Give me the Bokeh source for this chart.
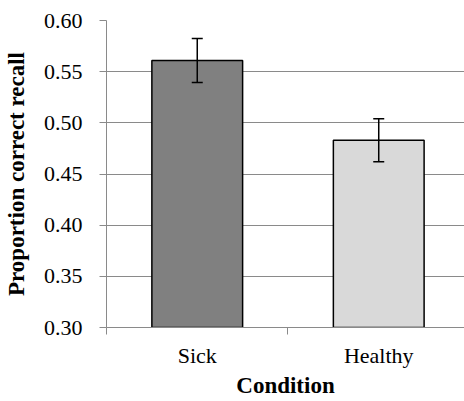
from bokeh.plotting import figure
from bokeh.models import ColumnDataSource, Range1d, FixedTicker, Whisker, TeeHead
from bokeh.embed import file_html
from bokeh.resources import INLINE

# Data
categories = ["Sick", "Healthy"]
positions = [0.5, 1.5]
means = [0.561, 0.483]
errors = [0.0215, 0.021]
fills = ["#808080", "#d9d9d9"]
y_ticks = [0.30, 0.35, 0.40, 0.45, 0.50, 0.55, 0.60]

src = ColumnDataSource(dict(
    x=positions, top=means,
    upper=[m + e for m, e in zip(means, errors)],
    lower=[m - e for m, e in zip(means, errors)],
    fill=fills,
))

GRAY = "#8a8a8a"
FONT = "'Liberation Serif', 'Times New Roman', serif"

p = figure(width=464, height=401, output_backend="svg", toolbar_location=None,
           x_range=Range1d(0, 359 / 182), y_range=Range1d(0.30, 0.60),
           min_border_left=105, min_border_right=0, min_border_top=20, min_border_bottom=74)
p.outline_line_color = None
p.background_fill_color = "white"

p.vbar(x="x", top="top", bottom=0.30, width=0.5, source=src, fill_color="fill",
       line_color="black", line_width=1.5)

w = Whisker(base="x", upper="upper", lower="lower", source=src,
            line_color="black", line_width=1.5, level="overlay",
            upper_head=TeeHead(size=11, line_color="black", line_width=1.5),
            lower_head=TeeHead(size=11, line_color="black", line_width=1.5))
p.add_layout(w)

# Y axis
p.yaxis.ticker = FixedTicker(ticks=y_ticks)
p.yaxis.major_label_overrides = {t: f"{t:.2f}" for t in y_ticks}
p.yaxis.axis_line_color = GRAY
p.yaxis.major_tick_line_color = GRAY
p.yaxis.major_tick_out = 7
p.yaxis.major_tick_in = 0
p.yaxis.minor_tick_line_color = None
p.yaxis.major_label_text_font = FONT
p.yaxis.major_label_text_font_size = "22px"
p.yaxis.major_label_text_color = "black"
p.yaxis.major_label_standoff = 17
p.yaxis.axis_label = "Proportion correct recall"
p.yaxis.axis_label_text_font = FONT
p.yaxis.axis_label_text_font_style = "bold"
p.yaxis.axis_label_text_font_size = "23px"
p.yaxis.axis_label_text_color = "black"
p.yaxis.axis_label_standoff = 12

# X axis
p.xaxis.ticker = FixedTicker(ticks=positions, minor_ticks=[0, 1, 2])
p.xaxis.major_label_overrides = {pos: c for pos, c in zip(positions, categories)}
p.xaxis.axis_line_color = GRAY
p.xaxis.major_tick_line_color = None
p.xaxis.major_tick_out = 7
p.xaxis.major_tick_in = 0
p.xaxis.minor_tick_line_color = GRAY
p.xaxis.minor_tick_out = 7
p.xaxis.minor_tick_in = 0
p.xaxis.major_label_text_font = FONT
p.xaxis.major_label_text_font_size = "22px"
p.xaxis.major_label_text_color = "black"
p.xaxis.major_label_standoff = 8
p.xaxis.axis_label = "Condition"
p.xaxis.axis_label_text_font = FONT
p.xaxis.axis_label_text_font_style = "bold"
p.xaxis.axis_label_text_font_size = "23px"
p.xaxis.axis_label_text_color = "black"
p.xaxis.axis_label_standoff = 2

p.xgrid.grid_line_color = None
p.ygrid.grid_line_color = GRAY
p.ygrid.grid_line_width = 1

open("out.html", "w").write(file_html(p, INLINE))
